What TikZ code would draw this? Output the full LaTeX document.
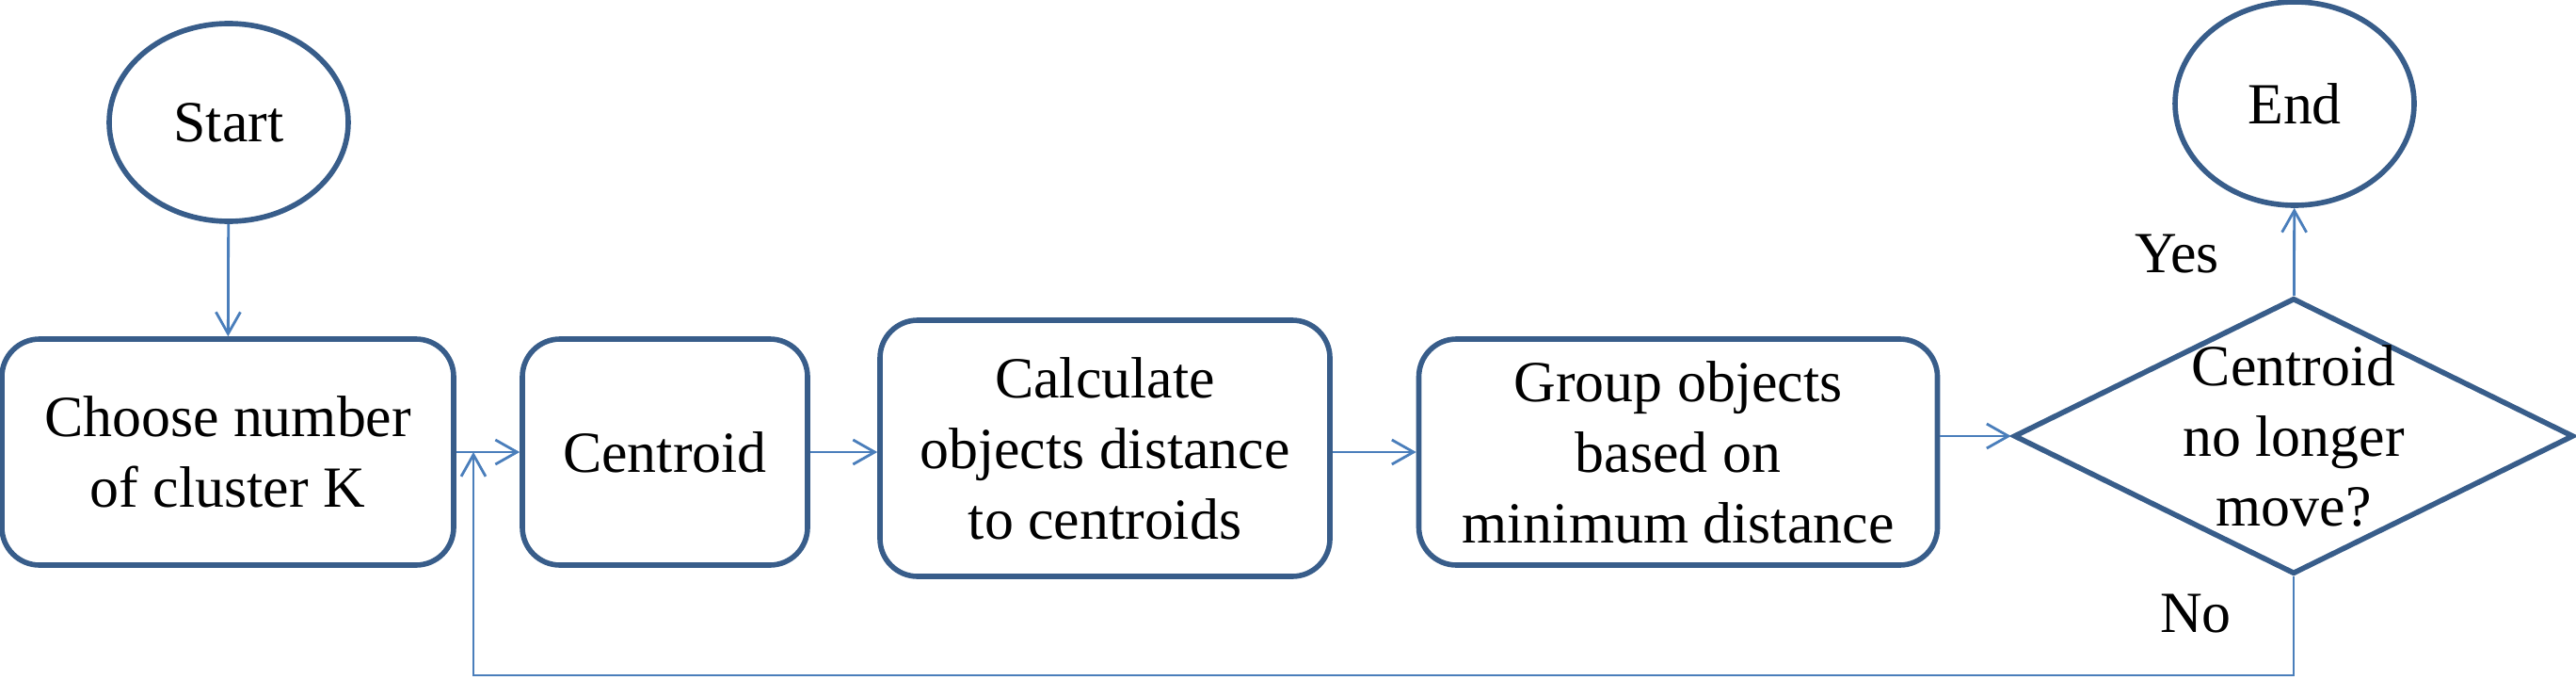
\documentclass[tikz,border=0pt]{standalone}
\usepackage{fontspec}
\setmainfont{Liberation Serif}
\usetikzlibrary{arrows.meta,positioning,shapes.geometric}
\definecolor{boxblue}{RGB}{56,93,138}
\definecolor{lineblue}{RGB}{74,126,187}

\begin{document}
\begin{tikzpicture}[
    font=\fontsize{17.6}{21.3}\selectfont,
    terminal/.style={ellipse, draw=boxblue, line width=1.6pt, inner sep=0pt,
                     minimum width=2.54cm, minimum height=2.1cm},
    process/.style={rectangle, rounded corners=4mm, draw=boxblue, line width=1.6pt,
                    align=center, inner sep=0pt, minimum height=2.4cm},
    decision/.style={diamond, draw=boxblue, line width=1.6pt, inner sep=0pt,
                     minimum width=5.95cm, minimum height=2.93cm},
    conn/.style={draw=lineblue, line width=0.8pt, -{Straight Barb[length=2.3mm,width=2.6mm]}}]
  \useasboundingbox (0,0) rectangle (27.37,7.21);
  % Start / End
  \node[terminal] (start) at (2.43,5.91) {Start};
  \node[terminal, minimum height=2.16cm] (end) at (24.38,6.11) {End};
  % Steps
  \node[process, minimum width=4.8cm] (choose) at (2.42,2.41) {Choose number\\of cluster K};
  \node[process, minimum width=3.03cm] (centroid) at (7.065,2.41) {Centroid};
  \node[process, minimum width=4.78cm, minimum height=2.72cm] (calc) at (11.74,2.45)
        {Calculate\\objects distance\\to centroids};
  \node[process, minimum width=5.51cm] (group) at (17.83,2.41)
        {Group objects\\based on\\minimum distance};
  % Decision
  \node[decision] (check) at (24.37,2.58) {};
  \node[align=center] (checktext) at (check.center) {Centroid\\no longer\\move?};
  \node (yes) at (23.13,4.51) {Yes};
  \node (no) at (23.33,0.69) {No};
  % Connectors
  \coordinate (join) at (5.03,2.41);
  \coordinate (corner) at (5.03,0.04);
  \draw[conn] (start) -- (choose);
  \draw[conn] (choose) -- (centroid);
  \draw[conn] (centroid.east) -- (centroid.east -| calc.west);
  \draw[conn] (calc.east |- group.west) -- (group.west);
  \draw[conn] (group.east |- check.west) -- (check.west);
  \draw[conn] (check) -- (end);
  \draw[conn] (check.south) |- (corner) -- (join);
\end{tikzpicture}
\end{document}
